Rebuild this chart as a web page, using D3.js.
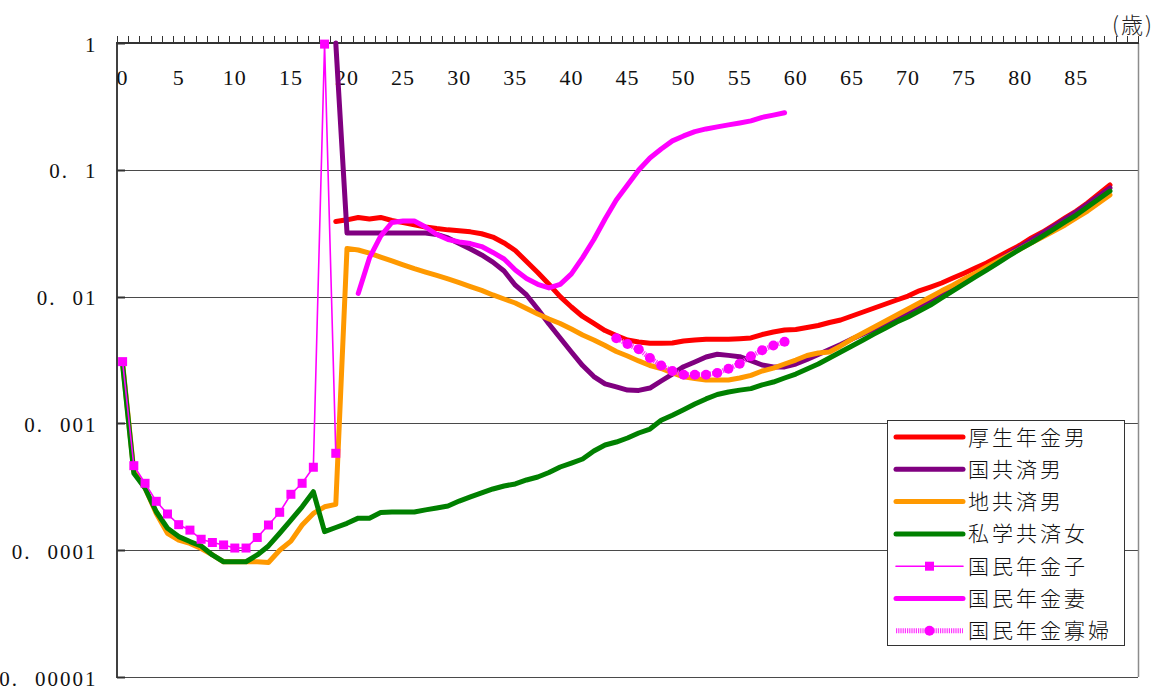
<!DOCTYPE html>
<html>
<head>
<meta charset="utf-8">
<script src="https://cdn.jsdelivr.net/npm/d3@7"></script>
<style>
  body { margin: 0; background: #fff; }
  svg { display: block; }
</style>
</head>
<body>
<svg id="chart" width="1159" height="689"></svg>
<script>
// Age categories on the horizontal axis (0–90 years)
const ages = d3.range(0, 91);
const xLabelAges = [0, 5, 10, 15, 20, 25, 30, 35, 40, 45, 50, 55, 60, 65, 70, 75, 80, 85];
const yTickValues = [1, 0.1, 0.01, 0.001, 0.0001, 0.00001];
const yTickLabels = ["1", "0.1", "0.01", "0.001", "0.0001", "0.00001"];
const unitLabel = "(歳)";

const seriesNames = ["厚生年金男", "国共済男", "地共済男", "私学共済女", "国民年金子", "国民年金妻", "国民年金寡婦"];

// 厚生年金男, ages 19–88
const kouseiMaleStart = 19;
const kouseiMale = [
  0.0391, 0.0403, 0.0421, 0.0409, 0.0421, 0.0398, 0.0383, 0.0368, 0.0354, 0.0344,
  0.0336, 0.0330, 0.0324, 0.0313, 0.0295, 0.0265, 0.0231, 0.0189, 0.0155, 0.0125,
  0.0100, 0.00828, 0.00697, 0.00614, 0.00540, 0.00493, 0.00455, 0.00439, 0.00428, 0.00428,
  0.00430, 0.00446, 0.00455, 0.00461, 0.00461, 0.00461, 0.00466, 0.00472, 0.00502, 0.00526,
  0.00545, 0.00550, 0.00571, 0.00592, 0.00625, 0.00654, 0.00703, 0.00756, 0.00813, 0.00874,
  0.00940, 0.0101, 0.0111, 0.0119, 0.0128, 0.0140, 0.0153, 0.0168, 0.0184, 0.0205,
  0.0229, 0.0255, 0.0290, 0.0323, 0.0367, 0.0417, 0.0473, 0.0547, 0.0644, 0.0759
];

// 国共済男, ages 19–88
const kokkyouMaleStart = 19;
const kokkyouMale = [
  1, 0.0317, 0.0317, 0.0317, 0.0317, 0.0317, 0.0317, 0.0317, 0.0317, 0.0309,
  0.0290, 0.0262, 0.0237, 0.0213, 0.0187, 0.0159, 0.0123, 0.0103, 0.00798, 0.00608,
  0.00472, 0.00366, 0.00286, 0.00234, 0.00205, 0.00194, 0.00183, 0.00182, 0.00190, 0.00216,
  0.00245, 0.00280, 0.00305, 0.00334, 0.00351, 0.00344, 0.00336, 0.00313, 0.00289, 0.00279,
  0.00279, 0.00294, 0.00319, 0.00349, 0.00383, 0.00419, 0.00463, 0.00507, 0.00555, 0.00608,
  0.00678, 0.00756, 0.00843, 0.00940, 0.0105, 0.0117, 0.0133, 0.0148, 0.0168, 0.0191,
  0.0217, 0.0246, 0.0279, 0.0317, 0.0360, 0.0409, 0.0465, 0.0537, 0.0621, 0.0719
];

// 地共済男, ages 0–88
const chikyouMaleStart = 0;
const chikyouMale = [
  0.0030, 0.00042, 0.00031, 0.000195, 0.000136, 0.000120, 0.000113, 0.000103, 0.000092, 0.000081,
  0.000081, 0.000081, 0.000081, 0.000080, 0.000100, 0.000118, 0.000158, 0.000195, 0.000220, 0.000230,
  0.0240, 0.0233, 0.0220, 0.0205, 0.0191, 0.0178, 0.0166, 0.0156, 0.0147, 0.0138,
  0.0129, 0.0120, 0.0112, 0.0103, 0.00957, 0.00890, 0.00806, 0.00729, 0.00666, 0.00614,
  0.00555, 0.00498, 0.00455, 0.00411, 0.00369, 0.00340, 0.00311, 0.00286, 0.00271, 0.00250,
  0.00233, 0.00226, 0.00220, 0.00220, 0.00220, 0.00228, 0.00239, 0.00259, 0.00273, 0.00294,
  0.00316, 0.00343, 0.00359, 0.00366, 0.00408, 0.00463, 0.00516, 0.00576, 0.00642, 0.00716,
  0.00798, 0.00890, 0.00993, 0.0111, 0.0123, 0.0138, 0.0153, 0.0171, 0.0191, 0.0213,
  0.0237, 0.0265, 0.0295, 0.0329, 0.0367, 0.0417, 0.0473, 0.0547, 0.0633
];

// 私学共済女, ages 0–88
const shigakuFemaleStart = 0;
const shigakuFemale = [
  0.0029, 0.000404, 0.000308, 0.000201, 0.000149, 0.000128, 0.000117, 0.000108, 0.0000917, 0.0000811,
  0.0000811, 0.0000811, 0.0000917, 0.000108, 0.000136, 0.000173, 0.000220, 0.000289, 0.000140, 0.000151,
  0.000163, 0.000179, 0.000179, 0.000198, 0.000200, 0.000200, 0.000200, 0.000208, 0.000215, 0.000223,
  0.000244, 0.000263, 0.000283, 0.000304, 0.000321, 0.000333, 0.000358, 0.000378, 0.000410, 0.000453,
  0.000487, 0.000524, 0.000606, 0.000676, 0.000713, 0.000767, 0.000840, 0.000903, 0.00106, 0.00116,
  0.00128, 0.00142, 0.00156, 0.00169, 0.00177, 0.00183, 0.00188, 0.00201, 0.00212, 0.00228,
  0.00245, 0.00269, 0.00294, 0.00328, 0.00366, 0.00408, 0.00455, 0.00508, 0.00566, 0.00631,
  0.00691, 0.00770, 0.00858, 0.00975, 0.0111, 0.0126, 0.0143, 0.0162, 0.0184, 0.0209,
  0.0237, 0.0265, 0.0300, 0.0341, 0.0388, 0.0440, 0.0509, 0.0589, 0.0680
];

// 国民年金子, ages 0–19
const kokuminChildStart = 0;
const kokuminChild = [
  0.00307, 0.000464, 0.000337, 0.000243, 0.000193, 0.000159, 0.000144, 0.000122, 0.000115, 0.000110,
  0.000104, 0.000104, 0.000126, 0.000158, 0.000199, 0.000276, 0.000337, 0.000451, 0.98, 0.000581
];

// 国民年金妻, ages 21–59
const kokuminWifeStart = 21;
const kokuminWife = [
  0.0106, 0.0202, 0.0300, 0.0384, 0.0395, 0.0395, 0.0354, 0.0309, 0.0282, 0.0270,
  0.0262, 0.0248, 0.0223, 0.0198, 0.0162, 0.0139, 0.0125, 0.0117, 0.0125, 0.0151,
  0.0203, 0.0282, 0.0409, 0.0578, 0.0759, 0.0996, 0.124, 0.146, 0.169, 0.185,
  0.200, 0.210, 0.218, 0.226, 0.234, 0.243, 0.259, 0.270, 0.282
];

// 国民年金寡婦, ages 44–59
const kokuminWidowStart = 44;
const kokuminWidow = [
  0.00469, 0.00423, 0.00384, 0.00328, 0.00286, 0.00259, 0.00242, 0.00242,
  0.00242, 0.00250, 0.00270, 0.00296, 0.00338, 0.00377, 0.00411, 0.00441
];

const toPoints = (start, values) => values.map((v, i) => ({ age: start + i, value: v }));

const series = [
  { name: seriesNames[0], data: toPoints(kouseiMaleStart, kouseiMale), color: "#ff0000", width: 5 },
  { name: seriesNames[1], data: toPoints(kokkyouMaleStart, kokkyouMale), color: "#800080", width: 5 },
  { name: seriesNames[2], data: toPoints(chikyouMaleStart, chikyouMale), color: "#ff9900", width: 5 },
  { name: seriesNames[3], data: toPoints(shigakuFemaleStart, shigakuFemale), color: "#008000", width: 5 },
  { name: seriesNames[4], data: toPoints(kokuminChildStart, kokuminChild), color: "#ff00ff", width: 1.6, marker: "square" },
  { name: seriesNames[5], data: toPoints(kokuminWifeStart, kokuminWife), color: "#ff00ff", width: 5 },
  { name: seriesNames[6], data: toPoints(kokuminWidowStart, kokuminWidow), color: "#ff33ff", width: 5, dash: "1.2,1", marker: "circle" }
];

const svg = d3.select("#chart");
svg.append("rect").attr("width", 1159).attr("height", 689).attr("fill", "#fff");

const plot = { left: 117, right: 1138, top: 43, bottom: 677 };

const x = d3.scaleBand().domain(ages).range([plot.left, plot.right]).padding(0);
const cx = a => x(a) + x.bandwidth() / 2;
const y = d3.scaleLog().domain([1e-5, 1]).range([plot.bottom, plot.top]);

// Horizontal gridlines at each decade
svg.append("g").selectAll("line")
  .data(yTickValues.slice(1))
  .join("line")
  .attr("x1", plot.left).attr("x2", plot.right)
  .attr("y1", d => Math.round(y(d)) + 0.5).attr("y2", d => Math.round(y(d)) + 0.5)
  .attr("stroke", "#4a4a4a").attr("stroke-width", 1.2);

// Right border of the plot area
svg.append("line")
  .attr("x1", plot.right + 0.5).attr("x2", plot.right + 0.5)
  .attr("y1", plot.top).attr("y2", plot.bottom)
  .attr("stroke", "#8c8c8c").attr("stroke-width", 1.5);

// Left value axis
svg.append("line")
  .attr("x1", plot.left).attr("x2", plot.left)
  .attr("y1", plot.top).attr("y2", plot.bottom + 1)
  .attr("stroke", "#404040").attr("stroke-width", 2);
svg.append("g").selectAll("line")
  .data(yTickValues)
  .join("line")
  .attr("x1", plot.left).attr("x2", plot.left + 8)
  .attr("y1", d => Math.round(y(d)) + 0.5).attr("y2", d => Math.round(y(d)) + 0.5)
  .attr("stroke", "#303030").attr("stroke-width", 2);

// Value labels: wide, typewriter-like spacing with a gap after the decimal point
const yLabels = svg.append("g")
  .attr("font-family", "'Liberation Serif', 'DejaVu Serif', serif")
  .attr("font-size", 21)
  .attr("fill", "#111");
yTickValues.forEach((v, i) => {
  const label = yTickLabels[i];
  const t = yLabels.append("text")
    .attr("x", 97.5)
    .attr("y", y(v) + 8.5)
    .attr("text-anchor", "end")
    .attr("letter-spacing", 2);
  const dot = label.indexOf(".");
  if (dot < 0) {
    t.text(label);
  } else {
    t.append("tspan").text(label.slice(0, dot + 1));
    t.append("tspan").attr("dx", 16).text(label.slice(dot + 1));
  }
});

// Top category axis (the value axis crosses at 1)
svg.append("line")
  .attr("x1", plot.left - 1).attr("x2", plot.right + 1)
  .attr("y1", plot.top).attr("y2", plot.top)
  .attr("stroke", "#333").attr("stroke-width", 2);
const boundaries = ages.map(a => x(a)).concat([plot.right]);
svg.append("g").selectAll("line")
  .data(boundaries)
  .join("line")
  .attr("x1", d => Math.round(d) + 0.5).attr("x2", d => Math.round(d) + 0.5)
  .attr("y1", plot.top - 7).attr("y2", plot.top)
  .attr("stroke", "#333").attr("stroke-width", 1);

svg.append("g").selectAll("text")
  .data(xLabelAges)
  .join("text")
  .attr("x", d => cx(d))
  .attr("y", 85)
  .attr("text-anchor", "middle")
  .attr("font-family", "'Liberation Serif', 'DejaVu Serif', serif")
  .attr("font-size", 22)
  .attr("letter-spacing", 1)
  .attr("fill", "#111")
  .text(d => d);

svg.append("text")
  .attr("x", 1112).attr("y", 33)
  .attr("font-family", "'Noto Sans CJK JP', sans-serif")
  .attr("font-size", 22)
  .attr("font-weight", 300)
  .attr("letter-spacing", 2)
  .attr("fill", "#222")
  .text(unitLabel);

// Series lines
const line = d3.line().x(d => cx(d.age)).y(d => y(d.value));
const gSeries = svg.append("g");
series.forEach(s => {
  gSeries.append("path")
    .datum(s.data)
    .attr("d", line)
    .attr("fill", "none")
    .attr("stroke", s.color)
    .attr("stroke-width", s.width)
    .attr("stroke-linejoin", "round")
    .attr("stroke-linecap", s.dash ? "butt" : "round")
    .attr("stroke-dasharray", s.dash || null);
  if (s.marker === "square") {
    gSeries.append("g").selectAll("rect")
      .data(s.data)
      .join("rect")
      .attr("x", d => cx(d.age) - 4.5).attr("y", d => y(d.value) - 4.5)
      .attr("width", 9).attr("height", 9)
      .attr("fill", "#ff00ff");
  } else if (s.marker === "circle") {
    gSeries.append("g").selectAll("circle")
      .data(s.data)
      .join("circle")
      .attr("cx", d => cx(d.age)).attr("cy", d => y(d.value))
      .attr("r", 5)
      .attr("fill", "#ff00ff");
  }
});

// Legend
const legend = svg.append("g");
legend.append("rect")
  .attr("x", 887.5).attr("y", 420.5).attr("width", 237).attr("height", 225)
  .attr("fill", "#fff").attr("stroke", "#333").attr("stroke-width", 1);
series.forEach((s, i) => {
  const ly = 437 + i * 32.3;
  legend.append("line")
    .attr("x1", 896).attr("x2", 963).attr("y1", ly).attr("y2", ly)
    .attr("stroke", s.color).attr("stroke-width", s.width)
    .attr("stroke-linecap", s.dash ? "butt" : "round")
    .attr("stroke-dasharray", s.dash || null);
  if (s.marker === "square") {
    legend.append("rect").attr("x", 925).attr("y", ly - 4.5).attr("width", 9).attr("height", 9).attr("fill", "#ff00ff");
  } else if (s.marker === "circle") {
    legend.append("circle").attr("cx", 929.5).attr("cy", ly).attr("r", 5).attr("fill", "#ff00ff");
  }
  legend.append("text")
    .attr("x", 968).attr("y", ly).attr("dy", "0.36em")
    .attr("font-family", "'Noto Sans CJK JP', sans-serif")
    .attr("font-size", 21)
    .attr("font-weight", 300)
    .attr("letter-spacing", 3)
    .attr("fill", "#111")
    .text(s.name);
});
</script>
</body>
</html>
